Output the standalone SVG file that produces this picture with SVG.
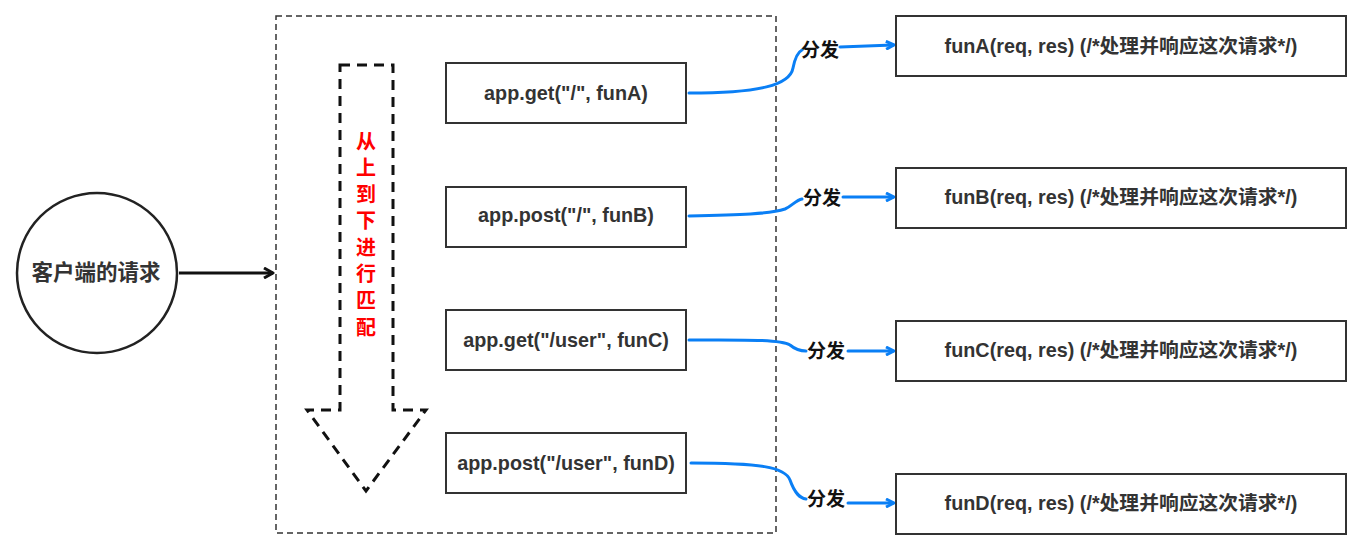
<svg xmlns="http://www.w3.org/2000/svg" width="1362" height="550" viewBox="0 0 1362 550">
<style>
.box{fill:#fff;stroke:#333;stroke-width:2}
.t{font-family:"Liberation Sans","Noto Sans CJK SC",sans-serif;font-weight:bold;font-size:19.8px;fill:#333;text-anchor:middle;dominant-baseline:central}
.lbl{font-family:"Liberation Sans","Noto Sans CJK SC",sans-serif;font-weight:bold;font-size:19px;fill:#111;text-anchor:middle;dominant-baseline:central}
.red{font-family:"Noto Sans CJK SC",sans-serif;font-weight:bold;font-size:20px;fill:#ff0000;text-anchor:middle;dominant-baseline:central}
.conn{fill:none;stroke:#0a7ff5;stroke-width:3;stroke-linecap:round}
</style>
<defs>
<marker id="ab" markerWidth="10" markerHeight="10" refX="8" refY="5" orient="auto" markerUnits="userSpaceOnUse">
<path d="M1,1 L9,5 L1,9" fill="none" stroke="#0a7ff5" stroke-width="3" stroke-linejoin="round"/>
</marker>
<marker id="ak" markerWidth="12" markerHeight="12" refX="10" refY="6" orient="auto" markerUnits="userSpaceOnUse">
<path d="M1,1 L10,6 L1,11" fill="none" stroke="#111" stroke-width="3" stroke-linejoin="round"/>
</marker>
</defs>
<rect width="1362" height="550" fill="#fff"/>
<g id="container">
<rect x="276" y="16" width="500" height="517" fill="none" stroke="#333" stroke-width="1.5" stroke-dasharray="6 4"/>
</g>
<g id="client">
<circle cx="97" cy="273" r="80" fill="#fff" stroke="#222" stroke-width="2.5"/>
<text class="t" x="96" y="273" style="font-size:21.5px">客户端的请求</text>
</g>
<g id="match-arrow">
<path d="M340,65 L393,65 L393,410 L426,410 L366,491 L307,410 L340,410 Z" fill="none" stroke="#111" stroke-width="3" stroke-dasharray="10 7"/>
<text class="red" x="366" y="140">从</text>
<text class="red" x="366" y="166.5">上</text>
<text class="red" x="366" y="193">到</text>
<text class="red" x="366" y="219.5">下</text>
<text class="red" x="366" y="246">进</text>
<text class="red" x="366" y="272.5">行</text>
<text class="red" x="366" y="299">匹</text>
<text class="red" x="366" y="326">配</text>
</g>
<g id="routeA"><rect class="box" x="446" y="63" width="240" height="60"/><text class="t" x="566" y="93">app.get("/", funA)</text></g>
<g id="routeB"><rect class="box" x="446" y="187" width="240" height="60"/><text class="t" x="566" y="215">app.post("/", funB)</text></g>
<g id="routeC"><rect class="box" x="446" y="310" width="240" height="60"/><text class="t" x="566" y="340">app.get("/user", funC)</text></g>
<g id="routeD"><rect class="box" x="446" y="433" width="240" height="60"/><text class="t" x="566" y="463">app.post("/user", funD)</text></g>
<g id="funA"><rect class="box" x="896" y="16" width="450" height="60"/><text class="t" x="1121" y="46">funA(req, res) (/*处理并响应这次请求*/)</text></g>
<g id="funB"><rect class="box" x="896" y="168" width="450" height="60"/><text class="t" x="1121" y="197">funB(req, res) (/*处理并响应这次请求*/)</text></g>
<g id="funC"><rect class="box" x="896" y="321" width="450" height="60"/><text class="t" x="1121" y="350">funC(req, res) (/*处理并响应这次请求*/)</text></g>
<g id="funD"><rect class="box" x="896" y="474" width="450" height="60"/><text class="t" x="1121" y="503">funD(req, res) (/*处理并响应这次请求*/)</text></g>
<g id="connectors">
<path d="M179,273 L273,273" fill="none" stroke="#111" stroke-width="3" marker-end="url(#ak)"/>
<path class="conn" d="M689,93 C760,93 790,85 793,68 C795,58 798,52 802,50"/>
<path class="conn" d="M840,47 L893,45" marker-end="url(#ab)"/>
<path class="conn" d="M689,216 C740,215 770,214 785,209 C792,206 796,200 802,199"/>
<path class="conn" d="M843,197 L893,197" marker-end="url(#ab)"/>
<path class="conn" d="M689,340 C740,340 780,339 790,345 C796,350 800,351 806,351"/>
<path class="conn" d="M848,351 L893,351" marker-end="url(#ab)"/>
<path class="conn" d="M691,463 C760,463 785,467 790,480 C795,494 800,498 806,499"/>
<path class="conn" d="M848,503 L893,503" marker-end="url(#ab)"/>
<text class="lbl" x="820" y="50">分发</text>
<text class="lbl" x="822" y="198">分发</text>
<text class="lbl" x="826" y="351">分发</text>
<text class="lbl" x="826" y="499">分发</text>
</g>
</svg>
